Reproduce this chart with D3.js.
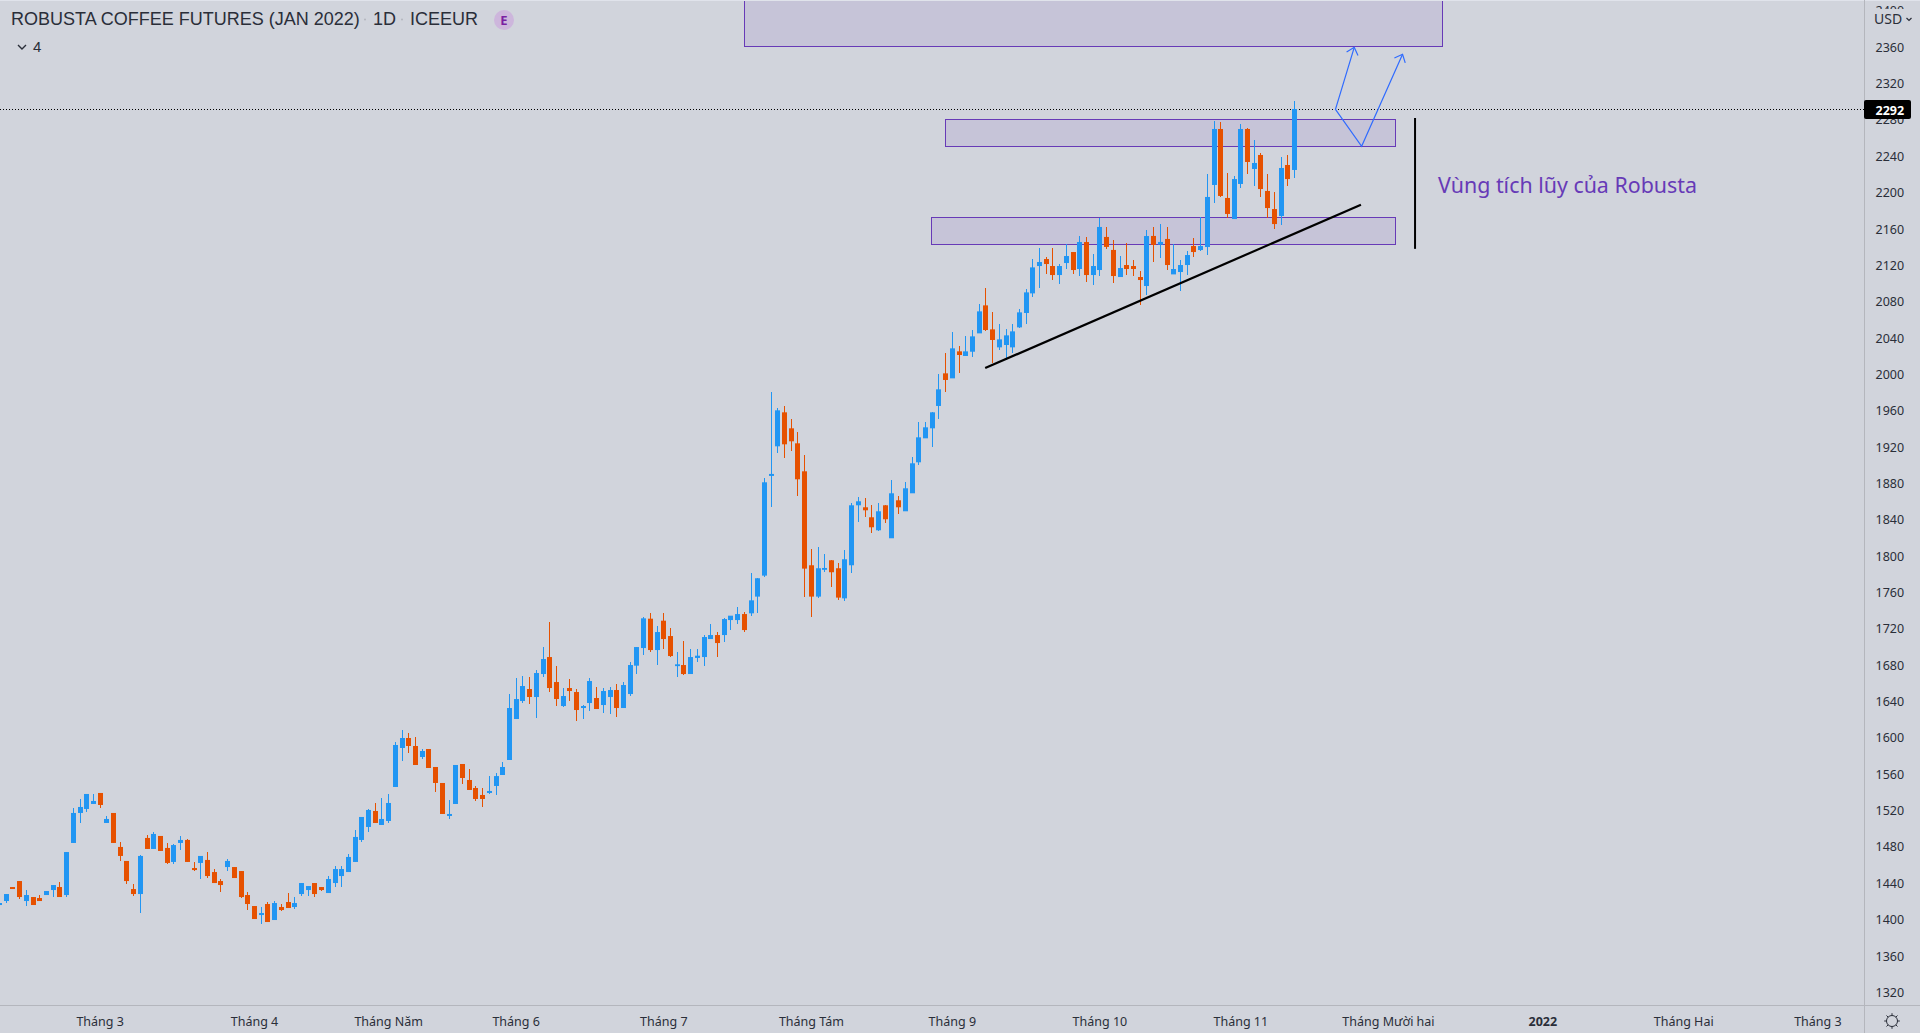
<!DOCTYPE html>
<html>
<head>
<meta charset="utf-8">
<script src="https://cdn.jsdelivr.net/npm/d3@7/dist/d3.min.js"></script>
<style>
html,body{margin:0;padding:0;background:#d1d4dc;overflow:hidden}
svg{display:block}
</style>
</head>
<body>
<svg id="c" width="1920" height="1033"></svg>
<script>
const opens = [1416.1,1420.5,1435.9,1442.5,1420.5,1424.9,1423.8,1427.1,1432.6,1435.9,
1427.1,1484.4,1517.4,1521.8,1527.3,1539.4,1506.4,1517.4,1480,1464.6,
1433.7,1428.2,1489.9,1477.8,1492.1,1478.9,1463.5,1484.4,1487.7,1456.8,
1462.4,1465.7,1452.4,1442.5,1457.9,1457.9,1453.5,1427.1,1415,1405.1,
1417.2,1399.6,1413.9,1419.4,1413.9,1428.2,1432.6,1440.3,1435.9,1429.3,
1440.3,1448,1452.4,1463.5,1487.7,1502,1519.6,1504.2,1508.6,1546,
1588.9,1599.9,1591.1,1579,1587.8,1568,1550.4,1514.1,1527.3,1571.3,
1553.7,1544.9,1537.2,1539.4,1547.1,1559.2,1575.7,1620.8,1640.6,1653.8,
1645,1670.3,1689,1661.5,1635.1,1654.9,1650.5,1632.9,1638.4,1643.9,
1636.2,1645,1652.7,1632.9,1648.3,1679.5,1698.9,1731.2,1696.7,1729,
1712.1,1679,1680.2,1670.3,1688,1689,1708.8,1713.2,1713.2,1729.7,
1729.7,1736.3,1737.1,1755.5,1778.6,1888.3,1920.9,1958.3,1940.7,1924.2,
1893.4,1790,1755.5,1785,1795.5,1786.7,1753.6,1790,1856,1853.8,
1842.8,1828.5,1856,1819.7,1861.5,1849.4,1869.2,1903.3,1929.7,1940.7,
1965.3,2001.2,1995.7,2025.4,2020.3,2025,2045.2,2076,2049.6,2029.8,
2032.4,2029.8,2051.8,2067.6,2089.2,2119.3,2127,2119.3,2109.4,2122.6,
2134.7,2116,2145.7,2109.4,2114.9,2151.3,2137,2107.2,2120.4,2119.3,
2107.2,2097.3,2152.4,2142.8,2149.1,2110.1,2112.7,2120.4,2141.3,2136.9,
2140.2,2208.5,2270.1,2194.2,2171,2209.6,2270.1,2226.1,2241.5,2201.9,
2182,2174.3,2230.5,2225];
const highs = [1418.3,1428.2,1435.9,1442.5,1432.6,1424.9,1427.1,1431.5,1438.1,1441.4,
1474.4,1522.9,1532.8,1538.3,1538.3,1539.4,1514,1517.4,1485.5,1464.6,
1439.2,1471.2,1493.2,1496.5,1492.1,1484.4,1483.3,1492.1,1488.8,1463.5,
1470.1,1474.4,1455.7,1444.7,1466.8,1457.9,1453.5,1430.4,1415,1413.9,
1419.4,1420.5,1417.2,1429.3,1424.9,1440.3,1437,1440.3,1435.9,1448,
1459,1459,1472.3,1498.7,1513,1521.8,1528.4,1533.9,1538.3,1595.5,
1608.7,1605.4,1601,1587.8,1587.8,1568,1550.4,1531.7,1570.2,1571.3,
1565.8,1547,1544.9,1558,1561.4,1573.5,1648.7,1666,1668.1,1667,
1674.7,1699.7,1727.2,1678.8,1654.9,1664.5,1653.8,1636.2,1666,1656,
1654.9,1656,1659.3,1661.5,1683.5,1700,1733.4,1737.8,1723.1,1737.8,
1721,1694.9,1707,1697.8,1697.8,1713.2,1725.3,1716.2,1732.3,1734.5,
1744.4,1738.2,1781.2,1775.7,1885.7,1980.3,1962.7,1964.9,1950.6,1936.3,
1911,1807.6,1809.8,1802,1795.5,1792.9,1806.5,1858.2,1864.8,1863.7,
1856,1858.2,1856,1883.5,1865.9,1881.3,1908.8,1947.3,1947.3,1958.4,
2000.1,2023.2,2046.3,2030.9,2042.3,2048.9,2077.1,2094.7,2068.3,2055.1,
2049.6,2055.1,2071.6,2093.6,2127,2139.1,2129.2,2139.1,2121.5,2143.5,
2134.7,2152.3,2151.2,2132.5,2172.2,2162.3,2148,2130.3,2144.6,2125.9,
2113.8,2159,2162.3,2165.6,2162.3,2143.5,2125.9,2135.8,2150.1,2173.2,
2220.6,2278.9,2277.8,2221.7,2218.4,2275.6,2271.2,2258,2243.7,2220.6,
2200.8,2239.3,2241.5,2300.9];
const lows = [1416.1,1418.3,1433.7,1422.7,1415,1416.1,1420.5,1427.1,1424.9,1424.9,
1424.9,1484.4,1506.4,1518.5,1527.3,1522.9,1506.4,1484.4,1464.6,1439.2,
1426,1407.3,1477.8,1477.8,1475.6,1461.2,1461.2,1476.7,1463.5,1453.5,
1444.7,1445.8,1440.3,1430.4,1453.5,1445.8,1423.8,1410.6,1400.7,1395.2,
1397.4,1399.6,1409.5,1412.8,1411.7,1426,1426,1424.9,1431.5,1429.3,
1435.9,1435.9,1452.4,1463.5,1485.5,1496.5,1506.4,1504.2,1506.4,1546,
1574.6,1583.4,1570.2,1576.8,1566.9,1540.5,1516.3,1510.8,1527.3,1549.3,
1542.7,1530.6,1524,1538.3,1537.2,1559.2,1575.7,1620.8,1638.4,1637.3,
1621.9,1667,1650.5,1635.1,1634,1640.6,1618.6,1620.8,1629.6,1631.8,
1627.4,1626.3,1623,1632.9,1646.1,1670.3,1691.2,1694.5,1680.2,1697.8,
1689,1667,1669.2,1670.3,1683.5,1679,1708.8,1689,1705.5,1718.7,
1725.3,1716.5,1734.2,1737.1,1777.5,1854.5,1913.2,1907.7,1915.4,1865.9,
1754.7,1732.7,1753.6,1782.6,1766.5,1751.4,1750.3,1781.2,1837.3,1842.8,
1825,1827.4,1836.2,1819.7,1846,1849.4,1869.2,1900,1929.7,1919.8,
1950.6,1980.3,1995.7,2001.2,2020.3,2018.8,2045.2,2047.8,2012.2,2026.9,
2015.9,2023.2,2050.7,2055.1,2084.8,2094.7,2110.5,2103.9,2099.5,2116,
2110.5,2108.3,2101.7,2098.4,2108.3,2138.1,2100.6,2107.2,2109.4,2108.3,
2076.4,2087.4,2123.8,2128.2,2114.9,2110.1,2091.8,2109.4,2129.2,2135.8,
2131.4,2188.7,2195.3,2172.1,2171,2205.2,2220.6,2207.4,2195.3,2172.1,
2160,2164.4,2207.4,2216.2];
const closes = [1418.3,1428.2,1433.7,1424.9,1427.1,1416.1,1420.5,1431.5,1438.1,1424.9,
1474.4,1517.4,1524,1538.3,1530.6,1526.2,1510.8,1484.4,1470.1,1442.5,
1428.2,1470.1,1477.8,1494.3,1475.6,1462.4,1482.1,1487.7,1463.5,1454.6,
1470.1,1448,1440.3,1438.1,1464.6,1445.8,1424.9,1417.2,1400.7,1407.3,
1397.4,1418.3,1410.6,1412.8,1418.3,1440.3,1437,1428.2,1432.6,1444.7,
1455.7,1455.7,1469,1491,1513,1520.7,1506.4,1510.8,1528.4,1592.2,
1599.9,1591.1,1570.2,1585.6,1566.9,1550.4,1516.3,1516.3,1570.2,1555.9,
1542.7,1532.8,1532.8,1541.6,1558,1568,1632.9,1642.8,1657.1,1645,
1671.4,1686.8,1654.9,1642.8,1646.1,1651.6,1630.7,1635.1,1662.6,1631.8,
1651.6,1652.7,1632.9,1658.2,1680.2,1700,1731.6,1696.7,1716.5,1708.8,
1690.1,1681,1670.3,1689,1690.5,1711,1713.2,1704.4,1730.8,1734.5,
1736.3,1718.7,1751.4,1775.7,1881.3,1890.5,1960.5,1923.1,1926.4,1884.6,
1786.3,1755.5,1786.7,1787,1782.3,1754.4,1796.6,1856,1860.4,1850.5,
1831.8,1849.4,1840.6,1869.2,1853.8,1874.7,1902.2,1930.8,1941.8,1958.3,
1983.6,1993.9,2028.7,2021.4,2025.4,2041.9,2069.4,2048.9,2037.9,2038.6,
2043,2047.4,2068.3,2090.3,2117.8,2123.7,2121.5,2109.4,2119.3,2130.3,
2114.9,2145.7,2109.4,2119.3,2162.3,2140.3,2108.3,2117.1,2116,2116,
2103.9,2152.3,2142.5,2145.8,2120.4,2116,2120.4,2131.4,2134.7,2141.3,
2195.3,2270.1,2196.4,2176.6,2215,2270.1,2233.8,2232.7,2204,2183.1,
2165.5,2227.2,2215,2292.1];

const priceTicks = d3.range(1320, 2401, 40);
const timeTickBars = [15,38,58,77,99,121,142,164,185,207,230,251,271];
const timeTickLabels = ["Tháng 3","Tháng 4","Tháng Năm","Tháng 6","Tháng 7","Tháng Tám","Tháng 9","Tháng 10","Tháng 11","Tháng Mười hai","2022","Tháng Hai","Tháng 3"];
const lastPrice = 2292;
const titleParts = ["ROBUSTA COFFEE FUTURES (JAN 2022)","1D","ICEEUR"];

// drawings: bar index / price anchors
const zones = [[111,215.1,2420,2361.1],[140.95,208.1,2280.8,2251],[138.9,208.1,2172.9,2142.8]];
const trendLine = [[146.9,2007],[202.9,2186.8]];
const arrowPath = [[201.9,2360],[199.1,2291.8],[203,2251],[209.1,2352.3]];
const rangeLine = [[210.96,2282.2],[210.96,2138.2]];
const noteAnchor = [214.4,2200];
const noteText = "Vùng tích lũy của Robusta";

const W=1920,H=1033,plotW=1864,plotH=1005;
const blue="#2196f3",orange="#e65100",bg="#d1d4dc",axisCol="#b4b6bd",purple="#673ab7",textCol="#2a2e39";
const x=d3.scaleLinear().domain([0,1]).range([-0.5,6.21]);
const y=d3.scaleLinear().domain([2360,1320]).range([47.3,992.35]);
const col=i=>Math.floor(x(i));

const svg=d3.select("#c");
svg.append("rect").attr("width",W).attr("height",H).attr("fill",bg);
svg.append("defs").append("clipPath").attr("id","plot").append("rect").attr("width",plotW).attr("height",plotH);
const g=svg.append("g").attr("clip-path","url(#plot)");

// zones behind candles
const fl=v=>Math.floor(v);
g.selectAll("rect.zone").data(zones).join("rect").attr("class","zone")
 .attr("x",d=>fl(x(d[0]))+.5).attr("width",d=>fl(x(d[1]))-fl(x(d[0])))
 .attr("y",d=>fl(y(d[2]))+.5).attr("height",d=>fl(y(d[3]))-fl(y(d[2])))
 .attr("fill",purple).attr("fill-opacity",.1).attr("stroke",purple).attr("stroke-width",1);

// last price line
g.append("line").attr("x1",0).attr("x2",plotW).attr("y1",Math.floor(y(lastPrice))+.5).attr("y2",Math.floor(y(lastPrice))+.5)
 .attr("stroke","#000").attr("stroke-width",1).attr("stroke-dasharray","1 2");

// candles
const idx=d3.range(opens.length);
const color=i=>closes[i]>=opens[i]?blue:orange;
g.selectAll("rect.wick").data(idx).join("rect").attr("class","wick").attr("shape-rendering","crispEdges")
 .attr("x",i=>col(i)).attr("width",1).attr("y",i=>y(highs[i])).attr("height",i=>Math.max(1,y(lows[i])-y(highs[i])))
 .attr("fill",color);
g.selectAll("rect.body").data(idx).join("rect").attr("class","body")
 .attr("x",i=>col(i)-2).attr("width",5)
 .attr("y",i=>y(Math.max(opens[i],closes[i])))
 .attr("height",i=>Math.max(1,Math.abs(y(opens[i])-y(closes[i]))))
 .attr("fill",color);

// drawings
const ln=d3.line().x(d=>x(d[0])).y(d=>y(d[1]));
g.append("path").attr("d",ln(trendLine)).attr("fill","none").attr("stroke","#000").attr("stroke-width",2.2);
g.append("path").attr("d",ln(rangeLine)).attr("fill","none").attr("stroke","#000").attr("stroke-width",2);
g.append("path").attr("d",ln(arrowPath)).attr("fill","none").attr("stroke","#2f6bff").attr("stroke-width",1.2);
function head(a,b){
  const x1=x(b[0]),y1=y(b[1]),ang=Math.atan2(y1-y(a[1]),x1-x(a[0])),L=9,s=.72;
  const pts=[[x1-L*Math.cos(ang-s),y1-L*Math.sin(ang-s)],[x1,y1],[x1-L*Math.cos(ang+s),y1-L*Math.sin(ang+s)]];
  g.append("path").attr("d",d3.line()(pts)).attr("fill","none").attr("stroke","#2f6bff").attr("stroke-width",1.2);
}
head(arrowPath[1],arrowPath[0]);
head(arrowPath[2],arrowPath[3]);
g.append("text").attr("x",x(noteAnchor[0])).attr("y",y(noteAnchor[1])).text(noteText)
 .attr("fill",purple).attr("font-family","'Noto Sans'").attr("font-size",21.4);

// axes frame
svg.append("rect").attr("x",0).attr("y",0).attr("width",W).attr("height",1).attr("fill","#e0e3eb");
svg.append("rect").attr("x",plotW).attr("y",0).attr("width",1).attr("height",H).attr("fill",axisCol);
svg.append("rect").attr("x",0).attr("y",plotH).attr("width",W).attr("height",1).attr("fill",axisCol);

// price axis
const fontAxis="'Noto Sans'";
const pa=svg.append("g").attr("font-family",fontAxis).attr("font-size",12.5).attr("fill",textCol);
pa.selectAll("text").data(priceTicks).join("text")
 .attr("x",1875.5).attr("y",d=>y(d)+4.5).text(d=>d);
svg.append("rect").attr("x",plotW+1).attr("y",9).attr("width",W-plotW-1).attr("height",22).attr("fill",bg);
svg.append("text").attr("x",1874).attr("y",24).text("USD").attr("font-family",fontAxis).attr("font-size",14).attr("fill",textCol);
svg.append("path").attr("d","M1906.5 18l2.5 2.5 2.5-2.5").attr("fill","none").attr("stroke",textCol).attr("stroke-width",1.2);
svg.append("rect").attr("x",1864).attr("y",100).attr("width",47).attr("height",19).attr("rx",2).attr("fill","#000");
svg.append("text").attr("x",1875.5).attr("y",114.5).text(lastPrice).attr("font-family",fontAxis).attr("font-weight",700).attr("font-size",12.5).attr("fill","#fff");

// time axis
svg.append("g").attr("font-family",fontAxis).attr("font-size",12.5).attr("fill",textCol).attr("text-anchor","middle")
 .selectAll("text").data(timeTickBars).join("text")
 .attr("x",d=>x(d)).attr("y",1025.5).attr("font-weight",(d,i)=>timeTickLabels[i]==="2022"?700:400)
 .text((d,i)=>timeTickLabels[i]);

// gear
const gear=svg.append("g").attr("transform","translate(1892,1021)").attr("stroke",textCol).attr("fill","none").attr("stroke-width",1);
gear.append("circle").attr("r",5.5);
d3.range(8).forEach(k=>{const a=k*Math.PI/4;gear.append("line").attr("x1",5.5*Math.cos(a)).attr("y1",5.5*Math.sin(a)).attr("x2",7.8*Math.cos(a)).attr("y2",7.8*Math.sin(a));});

// header
const hd=svg.append("g").attr("font-family","'Liberation Sans'").attr("font-size",18).attr("fill",textCol);
hd.append("text").attr("x",11).attr("y",25).text(titleParts[0]);
hd.append("text").attr("x",373).attr("y",25).text(titleParts[1]);
hd.append("text").attr("x",410).attr("y",25).text(titleParts[2]);
svg.append("circle").attr("cx",365).attr("cy",19.5).attr("r",1).attr("fill","#b4b6bd");
svg.append("circle").attr("cx",402).attr("cy",19.5).attr("r",1).attr("fill","#b4b6bd");
svg.append("circle").attr("cx",504).attr("cy",20).attr("r",10).attr("fill","#cdb6dc");
svg.append("text").attr("x",504).attr("y",24.5).attr("text-anchor","middle").text("E").attr("font-family","'Noto Sans'").attr("font-weight",700).attr("font-size",13).attr("fill","#7b1fa2");
svg.append("path").attr("d","M18 45l4 4 4-4").attr("fill","none").attr("stroke",textCol).attr("stroke-width",1.4);
svg.append("text").attr("x",33).attr("y",52).text("4").attr("font-family","'Liberation Sans'").attr("font-size",15).attr("fill",textCol);
</script>
</body>
</html>
